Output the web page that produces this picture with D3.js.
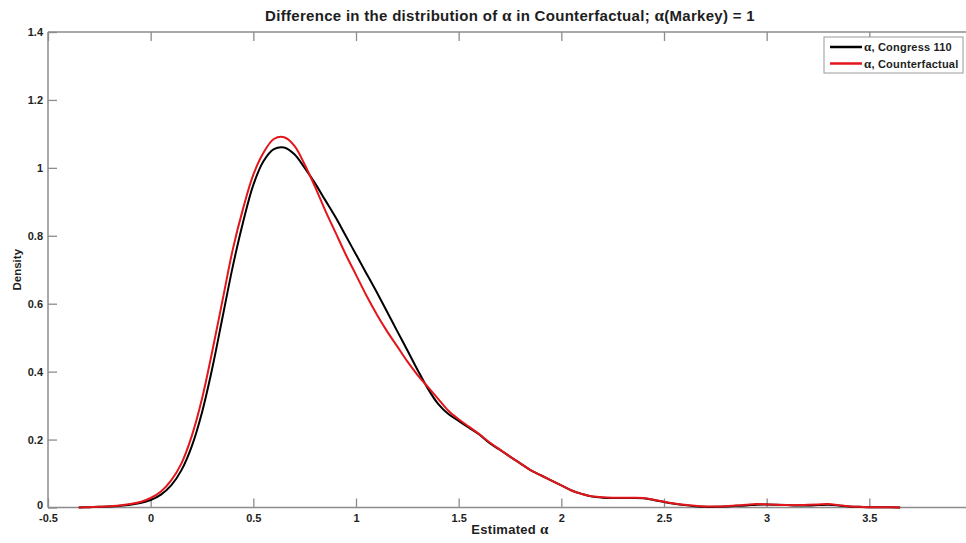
<!DOCTYPE html>
<html>
<head>
<meta charset="utf-8">
<script src="https://cdn.jsdelivr.net/npm/d3@7/dist/d3.min.js"></script>
<style>
  html, body { margin: 0; padding: 0; background: #fff; }
  svg { display: block; font-family: "Liberation Sans", Arial, sans-serif; }
</style>
</head>
<body>
<svg id="chart" width="966" height="543"></svg>
<script>
// ---- data ----
const xGrid = [-0.35,-0.30,-0.25,-0.20,-0.15,-0.10,-0.05,0.00,0.05,0.10,0.15,0.20,0.25,0.30,0.35,0.40,0.45,0.50,0.55,0.60,0.65,0.70,0.75,0.80,0.85,0.90,0.95,1.00,1.05,1.10,1.15,1.20,1.25,1.30,1.35,1.40,1.45,1.50,1.55,1.60,1.65,1.70,1.75,1.80,1.85,1.90,1.95,2.00,2.05,2.10,2.15,2.20,2.25,2.30,2.35,2.40,2.45,2.50,2.55,2.60,2.65,2.70,2.75,2.80,2.85,2.90,2.95,3.00,3.05,3.10,3.15,3.20,3.25,3.30,3.35,3.40,3.45,3.50,3.55,3.60,3.65];

const congress110 = [0.000,0.001,0.002,0.003,0.005,0.008,0.013,0.022,0.038,0.065,0.11,0.18,0.28,0.41,0.56,0.71,0.84,0.95,1.02,1.055,1.060,1.04,1.00,0.955,0.905,0.855,0.80,0.745,0.69,0.635,0.578,0.52,0.463,0.405,0.35,0.305,0.275,0.255,0.235,0.215,0.19,0.17,0.15,0.13,0.11,0.095,0.08,0.065,0.05,0.04,0.032,0.029,0.028,0.028,0.028,0.027,0.022,0.016,0.011,0.007,0.004,0.002,0.002,0.003,0.005,0.006,0.008,0.009,0.008,0.007,0.006,0.006,0.007,0.008,0.006,0.003,0.002,0.001,0.001,0.001,0.000];

const counterfactual = [0.000,0.001,0.002,0.004,0.006,0.010,0.016,0.028,0.047,0.08,0.13,0.21,0.32,0.46,0.61,0.76,0.88,0.98,1.045,1.085,1.09,1.065,1.01,0.945,0.875,0.81,0.745,0.685,0.625,0.57,0.52,0.475,0.43,0.39,0.355,0.32,0.285,0.26,0.238,0.216,0.192,0.171,0.15,0.13,0.11,0.095,0.08,0.065,0.05,0.04,0.033,0.030,0.029,0.029,0.029,0.028,0.023,0.017,0.012,0.008,0.005,0.003,0.003,0.004,0.006,0.008,0.010,0.009,0.008,0.007,0.007,0.008,0.009,0.010,0.007,0.004,0.002,0.001,0.001,0.001,0.000];

const xTicks = [-0.5,0,0.5,1,1.5,2,2.5,3,3.5];
const xTickLabels = ["-0.5","0","0.5","1","1.5","2","2.5","3","3.5"];
const yTicks = [0,0.2,0.4,0.6,0.8,1,1.2,1.4];
const yTickLabels = ["0","0.2","0.4","0.6","0.8","1","1.2","1.4"];
const seriesNames = ["Congress 110", "Counterfactual"];
const seriesColors = ["#000000", "#e3161b"];

// ---- layout ----
const svg = d3.select("#chart");
const pLeft = 48, pRight = 972, pTop = 32, pBottom = 507.5;
const x = d3.scaleLinear().domain([-0.5, 4]).range([pLeft, pRight]);
const y = d3.scaleLinear().domain([0, 1.4]).range([pBottom, pTop]);
const axisColor = "#8c8c8c";
const labelColor = "#1e1e1e";

svg.append("line").attr("x1", pLeft).attr("x2", 966).attr("y1", pTop).attr("y2", pTop)
  .attr("stroke", axisColor).attr("stroke-width", 1.5);

const gx = svg.append("g").attr("transform", `translate(0,${pBottom})`)
  .call(d3.axisBottom(x).tickValues(xTicks).tickFormat((d, i) => xTickLabels[i]).tickSize(-9).tickPadding(7));
const gxt = svg.append("g").attr("transform", `translate(0,${pTop})`)
  .call(d3.axisTop(x).tickValues(xTicks).tickFormat("").tickSize(-9));
const gy = svg.append("g").attr("transform", `translate(${pLeft},0)`)
  .call(d3.axisLeft(y).tickValues(yTicks).tickFormat((d, i) => yTickLabels[i]).tickSize(-9).tickPadding(5));

[gx, gxt, gy].forEach(g => {
  g.select(".domain").remove();
  g.selectAll(".tick line").attr("stroke", axisColor).attr("stroke-width", 1.3);
  g.selectAll(".tick text").attr("fill", labelColor).attr("font-size", 11)
    .attr("font-weight", "bold").attr("font-family", "'Liberation Sans', Arial, sans-serif");
});
// lift the y "0" label a little so it sits just above the x "-0.5" label, as in the reference
gy.selectAll(".tick text").filter(d => d === 0).attr("dy", "0.12em");

svg.append("line").attr("x1", pLeft).attr("x2", 966).attr("y1", pBottom).attr("y2", pBottom)
  .attr("stroke", axisColor).attr("stroke-width", 1.5);
svg.append("line").attr("x1", pLeft).attr("x2", pLeft).attr("y1", pTop).attr("y2", pBottom)
  .attr("stroke", axisColor).attr("stroke-width", 1.5);

// curves
const line = d3.line().x((d, i) => x(xGrid[i])).y(d => y(d)).curve(d3.curveCatmullRom);
svg.append("path").datum(congress110).attr("d", line)
  .attr("fill", "none").attr("stroke", seriesColors[0]).attr("stroke-width", 2);
svg.append("path").datum(counterfactual).attr("d", line)
  .attr("fill", "none").attr("stroke", seriesColors[1]).attr("stroke-width", 2);

// title
const title = svg.append("text").attr("x", (pLeft + pRight) / 2).attr("y", 21)
  .attr("text-anchor", "middle").attr("font-size", 15).attr("letter-spacing", 0.3)
  .attr("font-weight", "bold").attr("fill", labelColor);
title.append("tspan").text("Difference in the distribution of ");
title.append("tspan").attr("font-family", "'Liberation Serif', serif").attr("font-size", 17).text("α");
title.append("tspan").text(" in Counterfactual; ");
title.append("tspan").attr("font-family", "'Liberation Serif', serif").attr("font-size", 17).text("α");
title.append("tspan").text("(Markey) = 1");

// x label
const xl = svg.append("text").attr("x", (pLeft + pRight) / 2).attr("y", 534)
  .attr("text-anchor", "middle").attr("font-size", 13).attr("letter-spacing", 0.3)
  .attr("font-weight", "bold").attr("fill", labelColor);
xl.append("tspan").text("Estimated ");
xl.append("tspan").attr("font-family", "'Liberation Serif', serif").attr("font-size", 15).text("α");

// y label
svg.append("text").attr("transform", `translate(21,${(pTop + pBottom) / 2}) rotate(-90)`)
  .attr("text-anchor", "middle").attr("font-size", 11.5).attr("font-weight", "bold").attr("fill", labelColor)
  .text("Density");

// legend
const lg = svg.append("g");
lg.append("rect").attr("x", 824).attr("y", 37).attr("width", 139).attr("height", 36)
  .attr("fill", "#fff").attr("stroke", "#9a9a9a").attr("stroke-width", 1);
seriesNames.forEach((name, i) => {
  const yy = 47 + i * 16.5;
  lg.append("line").attr("x1", 830).attr("x2", 862).attr("y1", yy).attr("y2", yy)
    .attr("stroke", seriesColors[i]).attr("stroke-width", 2.5);
  const t = lg.append("text").attr("x", 864).attr("y", yy + 4).attr("font-size", 11)
    .attr("letter-spacing", 0.2).attr("font-weight", "bold").attr("fill", labelColor);
  t.append("tspan").attr("font-family", "'Liberation Serif', serif").attr("font-size", 13).text("α");
  t.append("tspan").text(", " + name);
});
</script>
</body>
</html>
